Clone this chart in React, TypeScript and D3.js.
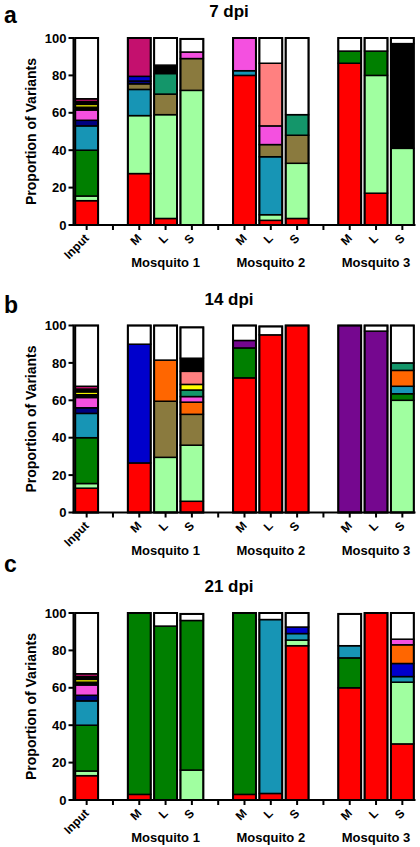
import React from "react";
import * as d3 from "d3";

type Seg = [string, number];

const categories = ["Input", "", "M", "L", "S", "", "M", "L", "S", "", "M", "L", "S"];
const groupLabels = ["Mosquito 1", "Mosquito 2", "Mosquito 3"];
const groupCenterIdx = [3, 7, 11];
const yTicks = [0, 20, 40, 60, 80, 100];
const panelTitles = ["7 dpi", "14 dpi", "21 dpi"];
const panelLetters = ["a", "b", "c"];

const variantColors: Record<string, string> = {
  red: "#FF0000",
  lgreen: "#A0FFA0",
  green: "#007F00",
  teal: "#1795B5",
  navy: "#000080",
  blue: "#0000CC",
  pink: "#F450E0",
  yellow: "#FFFF00",
  crimson: "#C4106E",
  black: "#000000",
  white: "#FFFFFF",
  olive: "#8A7A3E",
  tealgreen: "#14966A",
  salmon: "#FF8080",
  orange: "#FF6600",
  purple: "#75078F",
};

// Input (identical in all panels)
const inputBar: Seg[] = [["red", 13], ["lgreen", 2.5], ["green", 24.5], ["teal", 13], ["navy", 3], ["pink", 5.5], ["black", 1.5], ["yellow", 1.5], ["black", 1.5], ["crimson", 1.5], ["white", 32.5]];

// 7 dpi
const a_M1: Seg[] = [["red", 27.5], ["lgreen", 31], ["teal", 14], ["olive", 3], ["navy", 1.5], ["blue", 2.5], ["crimson", 20.5]];
const a_L1: Seg[] = [["red", 3.5], ["lgreen", 55.5], ["olive", 11], ["tealgreen", 11], ["black", 4.5], ["white", 14.5]];
const a_S1: Seg[] = [["lgreen", 72], ["olive", 17], ["pink", 3.5], ["white", 7]];
const a_M2: Seg[] = [["red", 80], ["teal", 2.5], ["pink", 17.5]];
const a_L2: Seg[] = [["red", 2.5], ["lgreen", 3], ["teal", 31], ["olive", 6.5], ["pink", 10], ["salmon", 33.5], ["white", 13.5]];
const a_S2: Seg[] = [["red", 3.5], ["lgreen", 29.5], ["olive", 15], ["tealgreen", 11], ["white", 41]];
const a_M3: Seg[] = [["red", 86.5], ["green", 6.5], ["white", 7]];
const a_L3: Seg[] = [["red", 17], ["lgreen", 63], ["green", 13], ["white", 7]];
const a_S3: Seg[] = [["lgreen", 41], ["black", 56], ["white", 3]];

// 14 dpi
const b_M1: Seg[] = [["red", 26.5], ["blue", 63.5], ["white", 10]];
const b_L1: Seg[] = [["lgreen", 29.5], ["olive", 30], ["orange", 22], ["white", 18.5]];
const b_S1: Seg[] = [["red", 6], ["lgreen", 30], ["olive", 16.5], ["orange", 6.5], ["pink", 3], ["tealgreen", 3.5], ["yellow", 3], ["salmon", 7], ["black", 7], ["white", 16.5]];
const b_M2: Seg[] = [["red", 72], ["green", 16], ["purple", 4], ["white", 8]];
const b_L2: Seg[] = [["red", 95], ["white", 4.5]];
const b_S2: Seg[] = [["red", 100]];
const b_M3: Seg[] = [["purple", 100]];
const b_L3: Seg[] = [["purple", 97], ["white", 3]];
const b_S3: Seg[] = [["lgreen", 60], ["green", 3.5], ["teal", 4], ["orange", 8.5], ["tealgreen", 4], ["white", 20]];

// 21 dpi
const c_M1: Seg[] = [["red", 3], ["green", 97]];
const c_L1: Seg[] = [["green", 93], ["white", 7]];
const c_S1: Seg[] = [["lgreen", 16], ["green", 80], ["white", 3.5]];
const c_M2: Seg[] = [["red", 3], ["green", 97]];
const c_L2: Seg[] = [["red", 3.5], ["teal", 93], ["white", 3.5]];
const c_S2: Seg[] = [["red", 82.5], ["lgreen", 3], ["teal", 3.5], ["blue", 3.5], ["white", 7.5]];
const c_M3: Seg[] = [["red", 60], ["green", 16], ["teal", 6.5], ["white", 17]];
const c_L3: Seg[] = [["red", 100]];
const c_S3: Seg[] = [["red", 30], ["lgreen", 33], ["teal", 3], ["blue", 7], ["orange", 10], ["pink", 3], ["white", 14]];

const panelA = [inputBar, null, a_M1, a_L1, a_S1, null, a_M2, a_L2, a_S2, null, a_M3, a_L3, a_S3];
const panelB = [inputBar, null, b_M1, b_L1, b_S1, null, b_M2, b_L2, b_S2, null, b_M3, b_L3, b_S3];
const panelC = [inputBar, null, c_M1, c_L1, c_S1, null, c_M2, c_L2, c_S2, null, c_M3, c_L3, c_S3];
const panels = [panelA, panelB, panelC];

const W = 420;
const H = 847;
const FONT = "'Liberation Sans', Arial, sans-serif";
const panelTops = [38, 325.5, 613];
const panelHeight = 187;
const letterY = [23, 313, 572];
const axisX = 73.5;
const axisRight = 415.5;

const x = d3
  .scaleBand<number>()
  .domain(categories.map((_, i) => i))
  .range([axisX, axisRight])
  .paddingInner(0.13)
  .paddingOuter(0.065);

function Panel({ bars, idx }: { bars: (Seg[] | null)[]; idx: number }) {
  const top = panelTops[idx];
  const bottom = top + panelHeight;
  const y = d3.scaleLinear().domain([0, 100]).range([bottom, top]);
  const bw = x.bandwidth();
  const midY = (top + bottom) / 2;
  return (
    <g>
      <text x={4} y={letterY[idx]} fontFamily={FONT} fontWeight="bold" fontSize={23}>
        {panelLetters[idx]}
      </text>
      <text x={229} y={top - 21} textAnchor="middle" fontFamily={FONT} fontWeight="bold" fontSize={17}>
        {panelTitles[idx]}
      </text>
      <text
        transform={`translate(36,${midY}) rotate(-90)`}
        textAnchor="middle"
        fontFamily={FONT}
        fontWeight="bold"
        fontSize={14}
      >
        Proportion of Variants
      </text>
      {bars.map((segs, i) => {
        if (!segs) return null;
        const x0 = x(i)!;
        const ends = Array.from(d3.cumsum(segs.map((s) => s[1])));
        const total = ends[ends.length - 1];
        return (
          <g key={i}>
            {segs.map((s, j) => {
              const lo = j === 0 ? 0 : ends[j - 1];
              const hi = ends[j];
              return (
                <rect
                  key={j}
                  x={x0}
                  y={y(hi)}
                  width={bw}
                  height={y(lo) - y(hi)}
                  fill={variantColors[s[0]]}
                  stroke="#000"
                  strokeWidth={1.5}
                />
              );
            })}
            <rect x={x0} y={y(total)} width={bw} height={y(0) - y(total)} fill="none" stroke="#000" strokeWidth={2} />
          </g>
        );
      })}
      {/* y axis */}
      <line x1={axisX} x2={axisX} y1={top - 1} y2={bottom + 1} stroke="#000" strokeWidth={2} />
      {yTicks.map((t) => (
        <g key={t}>
          <line x1={axisX - 5} x2={axisX} y1={y(t)} y2={y(t)} stroke="#000" strokeWidth={2} />
          <text x={axisX - 7} y={y(t)} dy="0.36em" textAnchor="end" fontFamily={FONT} fontWeight="bold" fontSize={13}>
            {t}
          </text>
        </g>
      ))}
      {/* x axis */}
      <line x1={axisX - 1} x2={axisRight} y1={bottom} y2={bottom} stroke="#000" strokeWidth={2} />
      {categories.map((c, i) => {
        const cx = x(i)! + bw / 2;
        return (
          <g key={i}>
            <line x1={cx} x2={cx} y1={bottom} y2={bottom + 5} stroke="#000" strokeWidth={2} />
            {c && (
              <text
                transform={`translate(${cx + 3},${bottom + 14}) rotate(-45)`}
                textAnchor="end"
                fontFamily={FONT}
                fontWeight="bold"
                fontSize={12}
              >
                {c}
              </text>
            )}
          </g>
        );
      })}
      {groupLabels.map((g, k) => {
        const cx = x(groupCenterIdx[k])! + bw / 2;
        return (
          <text key={g} x={cx} y={bottom + 42} textAnchor="middle" fontFamily={FONT} fontWeight="bold" fontSize={13}>
            {g}
          </text>
        );
      })}
    </g>
  );
}

export default function App() {
  return (
    <svg
      width={W}
      height={H}
      viewBox={`0 0 ${W} ${H}`}
      style={{ position: "absolute", left: 0, top: 0, display: "block", background: "#fff" }}
    >
      <rect x={0} y={0} width={W} height={H} fill="#fff" />
      {panels.map((p, i) => (
        <Panel key={i} bars={p} idx={i} />
      ))}
    </svg>
  );
}
